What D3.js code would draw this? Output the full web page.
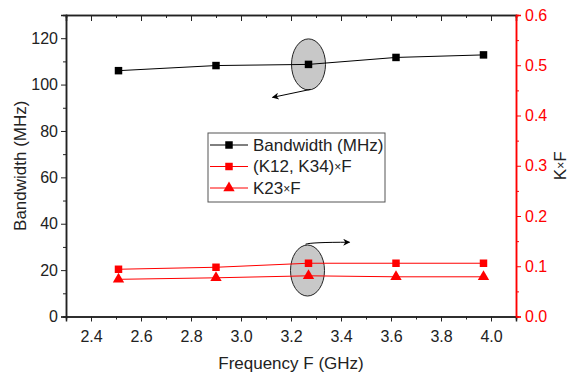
<!DOCTYPE html>
<html>
<head>
<meta charset="utf-8">
<script src="https://cdn.jsdelivr.net/npm/d3@7"></script>
<style>
  body { margin: 0; background: #fff; }
  text { font-family: Arial, "Liberation Sans", sans-serif; }
</style>
</head>
<body>
<div id="chart"></div>
<script>
// data
const freq = [2.51, 2.90, 3.27, 3.62, 3.97];
const bandwidth = [106.0, 108.2, 108.7, 111.7, 112.8];
const k1234F = [0.094, 0.098, 0.106, 0.106, 0.106];
const k23F = [0.074, 0.077, 0.081, 0.079, 0.079];
const xTicks = [2.4, 2.6, 2.8, 3.0, 3.2, 3.4, 3.6, 3.8, 4.0];
const leftTicks = [0, 20, 40, 60, 80, 100, 120];
const rightTicks = [0, 0.1, 0.2, 0.3, 0.4, 0.5, 0.6];
// label parts: [before ×, after ×]
const legendLabels = [["Bandwidth (MHz)", null], ["(K12, K34)", "F"], ["K23", "F"]];

const width = 571, height = 373;
const margin = { top: 15, right: 55, bottom: 56.5, left: 66 };
const red = "#ff0000";

const svg = d3.select("#chart")
  .append("svg")
  .attr("width", width)
  .attr("height", height);

const x = d3.scaleLinear().domain([2.3, 4.1]).range([margin.left, width - margin.right]);
const yL = d3.scaleLinear().domain([0, 130]).range([height - margin.bottom, margin.top]);
const yR = d3.scaleLinear().domain([0, 0.6]).range([height - margin.bottom, margin.top]);

const x0 = x.range()[0], x1 = x.range()[1];
const yBot = yL.range()[0], yTop = yL.range()[1];

// axes
function styleAxis(g, color) {
  g.selectAll("path").attr("stroke", color).attr("stroke-width", 1.5);
  g.selectAll("line").attr("stroke", color).attr("stroke-width", 1);
  g.selectAll("text").attr("fill", color).style("font-size", "16px")
    .style("font-family", "Arial, 'Liberation Sans', sans-serif");
}

// text with a small × sign
function timesText(sel, a, b) {
  sel.append("tspan").text(a);
  if (b !== null) {
    sel.append("tspan").style("font-size", "12px").attr("dy", "-1").text("\u00d7");
    sel.append("tspan").attr("dy", "1").text(b);
  }
}

// minor ticks
const xMinor = d3.range(2.3, 4.11, 0.2);
const lMinor = d3.range(10, 131, 20);
const rMinor = d3.range(0.05, 0.6, 0.1);

svg.append("g").attr("transform", `translate(0,${yBot})`)
  .call(d3.axisBottom(x).tickValues(xMinor).tickSize(3).tickFormat(""))
  .call(g => styleAxis(g, "#222"));
svg.append("g").attr("transform", `translate(0,${yTop})`)
  .call(d3.axisBottom(x).tickValues(xMinor).tickSize(3).tickFormat(""))
  .call(g => styleAxis(g, "#222"));
svg.append("g").attr("transform", `translate(0,${yTop})`)
  .call(d3.axisBottom(x).tickValues(xTicks).tickSize(6).tickFormat(""))
  .call(g => styleAxis(g, "#222"));
svg.append("g").attr("transform", `translate(${x0},0)`)
  .call(d3.axisLeft(yL).tickValues(lMinor).tickSize(3).tickFormat(""))
  .call(g => styleAxis(g, "#222"));
svg.append("g").attr("transform", `translate(${x1},0)`)
  .call(d3.axisRight(yR).tickValues(rMinor).tickSize(3).tickFormat(""))
  .call(g => styleAxis(g, red));

svg.append("g").attr("transform", `translate(0,${yBot})`)
  .call(d3.axisBottom(x).tickValues(xTicks).tickSize(5).tickPadding(9).tickFormat(d3.format(".1f")))
  .call(g => styleAxis(g, "#222"));
svg.append("g").attr("transform", `translate(${x0},0)`)
  .call(d3.axisLeft(yL).tickValues(leftTicks).tickSize(5).tickPadding(3))
  .call(g => styleAxis(g, "#222"));
svg.append("g").attr("transform", `translate(${x1},0)`)
  .call(d3.axisRight(yR).tickValues(rightTicks).tickSize(5).tickPadding(4).tickFormat(d3.format(".1f")))
  .call(g => styleAxis(g, red));

// axis titles
svg.append("text")
  .attr("x", (x0 + x1) / 2).attr("y", 369)
  .attr("text-anchor", "middle").style("font-size", "17px").attr("fill", "#222")
  .text("Frequency F (GHz)");
svg.append("text")
  .attr("transform", `translate(26,${(yTop + yBot) / 2}) rotate(-90)`)
  .attr("text-anchor", "middle").style("font-size", "17px").attr("fill", "#222")
  .text("Bandwidth (MHz)");
svg.append("text")
  .attr("transform", `translate(566,${(yTop + yBot) / 2}) rotate(-90)`)
  .attr("text-anchor", "middle").style("font-size", "17px").attr("fill", "#222")
  .call(t => timesText(t, "K", "F"));

// ellipses (behind the lines)
svg.append("ellipse")
  .attr("cx", x(3.27)).attr("cy", yL(108.7))
  .attr("rx", 17).attr("ry", 25.5)
  .attr("fill", "#c8c8c8").attr("stroke", "#222").attr("stroke-width", 1);
svg.append("ellipse")
  .attr("cx", x(3.27) - 1).attr("cy", (yR(0.106) + yR(0.081)) / 2 + 1)
  .attr("rx", 17).attr("ry", 25.5)
  .attr("fill", "#c8c8c8").attr("stroke", "#222").attr("stroke-width", 1);

// arrows
svg.append("defs").append("marker")
  .attr("id", "arrow").attr("viewBox", "0 0 10 10")
  .attr("refX", 9).attr("refY", 5)
  .attr("markerWidth", 9).attr("markerHeight", 7)
  .attr("markerUnits", "userSpaceOnUse")
  .attr("orient", "auto")
  .append("path").attr("d", "M0,0 L10,5 L0,10 L3,5 Z").attr("fill", "#000");

svg.append("path")
  .attr("d", `M${x(3.27) + 2},${yL(108.7) + 25} L${x(3.27) - 36},${yL(108.7) + 33}`)
  .attr("stroke", "#000").attr("stroke-width", 1).attr("fill", "none")
  .attr("marker-end", "url(#arrow)");
svg.append("path")
  .attr("d", `M${x(3.27) - 3},${yR(0.106) - 19} Q${x(3.27) + 2},${yR(0.106) - 21} ${x(3.27) + 41},${yR(0.106) - 21}`)
  .attr("stroke", "#000").attr("stroke-width", 1).attr("fill", "none")
  .attr("marker-end", "url(#arrow)");

// series
const series = [
  { vals: bandwidth, y: yL, color: "#000", shape: d3.symbolSquare, size: 56 },
  { vals: k1234F, y: yR, color: red, shape: d3.symbolSquare, size: 56 },
  { vals: k23F, y: yR, color: red, shape: d3.symbolTriangle, size: 56 }
];

series.forEach(s => {
  const line = d3.line().x((d, i) => x(freq[i])).y(d => s.y(d));
  svg.append("path").datum(s.vals)
    .attr("d", line).attr("fill", "none")
    .attr("stroke", s.color).attr("stroke-width", 1);
  svg.append("g").selectAll("path")
    .data(s.vals)
    .join("path")
    .attr("transform", (d, i) => `translate(${x(freq[i])},${s.y(d)})`)
    .attr("d", d3.symbol().type(s.shape).size(s.size))
    .attr("fill", s.color);
});

// legend
const lg = svg.append("g").attr("transform", "translate(208,133)");
lg.append("rect").attr("width", 177).attr("height", 69)
  .attr("fill", "#fff").attr("stroke", "#555").attr("stroke-width", 1);
const rows = lg.selectAll("g.row")
  .data(series)
  .join("g")
  .attr("transform", (d, i) => `translate(0,${12 + i * 21.5})`);
rows.append("line").attr("x1", 2).attr("x2", 40)
  .attr("stroke", d => d.color).attr("stroke-width", 1);
rows.append("path")
  .attr("transform", "translate(21,0)")
  .attr("d", d => d3.symbol().type(d.shape).size(d.size)())
  .attr("fill", d => d.color);
rows.append("text")
  .attr("x", 45).attr("y", 0).attr("dy", "0.35em")
  .style("font-size", "17px").attr("fill", "#222")
  .each(function (d, i) { timesText(d3.select(this), legendLabels[i][0], legendLabels[i][1]); });
</script>
</body>
</html>
